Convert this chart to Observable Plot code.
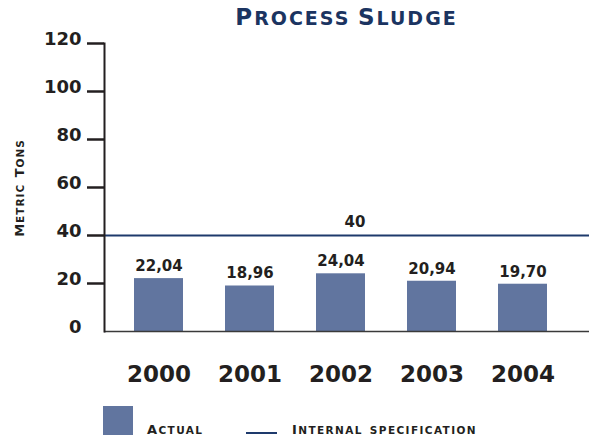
<!DOCTYPE html>
<html>
<head>
<meta charset="utf-8">
<script src="https://cdn.jsdelivr.net/npm/d3@7"></script>
<script src="https://cdn.jsdelivr.net/npm/@observablehq/plot@0.6"></script>
<style>
  html, body { margin: 0; padding: 0; background: #fff; }
  #wrap { position: relative; width: 589px; height: 438px; font-family: "DejaVu Sans", sans-serif; font-weight: bold; color: #231f20; }
  #chart { position: absolute; left: 0; top: 0; }
  #title { position: absolute; left: 104px; width: 485px; top: 4px; text-align: center; color: #1b3461; letter-spacing: 2px; white-space: nowrap; }
  #title .b { font-size: 23px; }
  #title .s { font-size: 19px; }
  #ytitle { position: absolute; left: 18px; top: 188px; transform: translate(-50%, -50%) rotate(-90deg); white-space: nowrap; letter-spacing: 1px; }
  #ytitle .b, #legend .b { font-size: 13px; }
  #ytitle .s, #legend .s { font-size: 10.5px; }
  #legend { position: absolute; top: 406px; left: 103px; height: 30px; white-space: nowrap; letter-spacing: 1.4px; }
  #legend .sw { position: absolute; top: 0; width: 30px; height: 29px; background: #61759f; }
  #legend .ln { position: absolute; top: 26px; width: 31px; height: 2px; background: #1e3a6c; }
  #legend .tx { position: absolute; top: 17px; line-height: 12px; }
</style>
</head>
<body>
<div id="wrap">
  <div id="chart"></div>
  <div id="title"><span class="b">P</span><span class="s">ROCESS</span> <span class="b">S</span><span class="s">LUDGE</span></div>
  <div id="ytitle"><span class="b">M</span><span class="s">ETRIC</span> <span class="b">T</span><span class="s">ONS</span></div>
  <div id="legend">
    <div class="sw" style="left:0"></div>
    <div class="tx" style="left:44px"><span class="b">A</span><span class="s">CTUAL</span></div>
    <div class="ln" style="left:143px"></div>
    <div class="tx" style="left:189px"><span class="b">I</span><span class="s">NTERNAL</span> <span class="s">SPECIFICATION</span></div>
  </div>
</div>
<script>
const years = ["2000", "2001", "2002", "2003", "2004"];
const actual = [22.04, 18.96, 24.04, 20.94, 19.70];
const specification = 40;
const yTicks = [0, 20, 40, 60, 80, 100, 120];

const data = years.map((year, i) => ({year, value: actual[i]}));
const fmt = v => v.toFixed(2).replace(".", ",");

const chart = Plot.plot({
  width: 589,
  height: 438,
  marginLeft: 104,
  marginRight: 0,
  marginTop: 43,
  marginBottom: 107,
  style: {fontFamily: "DejaVu Sans, sans-serif", color: "#231f20", background: "transparent"},
  x: {type: "band", domain: years, paddingInner: 0.463, paddingOuter: 0.389, align: 0.41},
  y: {domain: [0, 120]},
  marks: [
    Plot.barY(data, {x: "year", y: "value", fill: "#61759f"}),
    Plot.ruleY([specification], {stroke: "#1e3a6c", strokeWidth: 2}),
    Plot.text([specification], {y: d => d, text: d => String(d), dx: 8, dy: -13, fontSize: 15, fontWeight: "bold", fill: "#231f20"}),
    Plot.text(data, {x: "year", y: "value", text: d => fmt(d.value), dy: -12.5, fontSize: 15, fontWeight: "bold", fill: "#231f20", letterSpacing: -0.5}),
    Plot.ruleY([0], {stroke: "#3a3a3a", strokeWidth: 1.5}),
    Plot.frame({anchor: "left", stroke: "#231f20", strokeWidth: 2}),
    Plot.axisY({ticks: yTicks.filter(d => d > 0), tickSize: 17, tickFormat: () => "", stroke: "#231f20", strokeWidth: 2.5, label: null}),
    Plot.axisY({ticks: yTicks, tickSize: 0, tickPadding: 23, dy: -4, fontSize: 18, fontWeight: "bold", fill: "#231f20", label: null}),
    Plot.axisX({tickSize: 0, tickPadding: 34, fontSize: 23, fontWeight: "bold", fill: "#231f20", letterSpacing: -1, label: null})
  ]
});
document.getElementById("chart").appendChild(chart);
</script>
</body>
</html>
